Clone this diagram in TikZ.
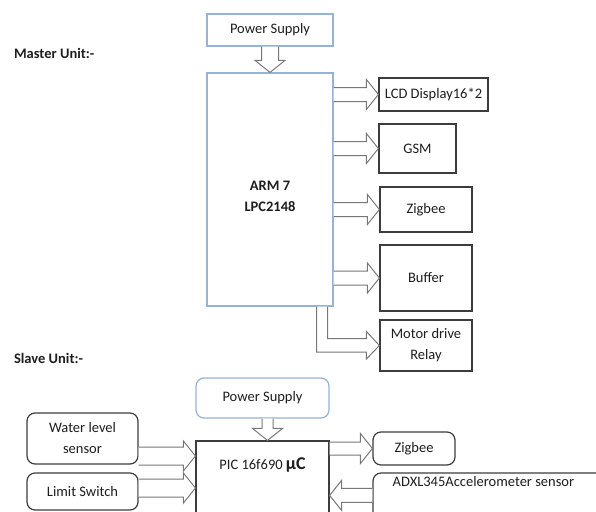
\documentclass[tikz,border=0pt]{standalone}
\usepackage{fontspec}
\setmainfont{Carlito}
\usepackage{xcolor}
\definecolor{psblue}{RGB}{149,179,215}
\definecolor{boxgray}{RGB}{60,60,60}
\definecolor{arrowgray}{RGB}{120,120,120}
\definecolor{txtgray}{RGB}{30,30,30}
\usepackage{tikz}
\usetikzlibrary{calc}

\tikzset{
  blockbox/.style={draw=boxgray, line width=1.2pt, fill=white, text=txtgray, inner sep=2pt},
  psbox/.style={blockbox, draw=psblue},
  roundbox/.style={blockbox, rounded corners=8pt},
  blockarrow/.style={draw=arrowgray, line width=1pt, fill=white, line join=miter},
  unitlbl/.style={font=\bfseries, text=txtgray, anchor=west}
}

% hollow block arrow: [shaft half width]{from}{to}
\newcommand{\fatarrow}[3][7]{%
  \coordinate (fa-a) at (#2);
  \coordinate (fa-b) at (#3);
  \coordinate (fa-n) at ($(fa-b)!12pt!(fa-a)$);
  \filldraw[blockarrow] ($(fa-a)!#1pt!90:(fa-b)$) -- ($(fa-n)!#1pt!90:(fa-b)$)
    -- ($(fa-n)!15pt!90:(fa-b)$) -- (fa-b) -- ($(fa-n)!15pt!-90:(fa-b)$)
    -- ($(fa-n)!#1pt!-90:(fa-b)$) -- ($(fa-a)!#1pt!-90:(fa-b)$);
}

\begin{document}
\fontsize{14.5}{21}\selectfont
\begin{tikzpicture}[x=1pt, y=-1pt]
  \useasboundingbox (0,0) rectangle (596,511);
  \clip (0,0) rectangle (596,511);

  % --- Master unit ---
  \node[unitlbl] (masterlbl) at (9,53) {Master Unit:-};
  \node[psbox, minimum width=126, minimum height=32] (mps) at (270,30) {Power Supply};
  \node[psbox, minimum width=126, minimum height=233] (arm) at (270,189.5) {};
  \node[font=\bfseries, align=center, text=txtgray] (armlbl) at ($(arm.center)+(0,7)$) {ARM 7\\LPC2148};
  % Outputs
  \node[blockbox, minimum width=109, minimum height=33] (lcd) at (433.5,94.5) {LCD Display16*2};
  \node[blockbox, minimum width=77, minimum height=49] (gsm) at (417.5,148.5) {GSM};
  \node[blockbox, minimum width=92, minimum height=45] (zig) at (426,209.5) {Zigbee};
  \node[blockbox, minimum width=92, minimum height=66] (buf) at (426,278) {Buffer};
  \node[blockbox, minimum width=92, minimum height=51, align=center] (motor) at (426,345.5) {Motor drive\\Relay};
  % Arrows
  \fatarrow[8.5]{mps.south}{arm.north}
  \fatarrow{arm.east |- lcd.west}{lcd.west}
  \fatarrow{arm.east |- gsm.west}{gsm.west}
  \fatarrow{arm.east |- zig.west}{zig.west}
  \fatarrow{arm.east |- buf.west}{buf.west}
  \filldraw[blockarrow] ($(arm.south east)+(-17,0)$) |- ($(motor.west)+(-13,6.5)$) -- ++(0,7)
    -- (motor.west) -- ++(-13,-14) -- ++(0,7) -| ($(arm.south east)+(-6,0)$);

  % --- Slave unit ---
  \node[unitlbl] (slavelbl) at (9,358) {Slave Unit:-};
  \node[psbox, rounded corners=8pt, minimum width=133, minimum height=40] (sps) at (262.5,398) {Power Supply};
  \node[blockbox, minimum width=133, minimum height=89] (pic) at (262.5,485.5) {};
  \node[text=txtgray] (piclbl) at ($(pic.north)+(0,25)$) {PIC 16f690 {\fontsize{18}{20}\selectfont\bfseries µC}};
  \node[roundbox, minimum width=111, minimum height=51, align=center] (water) at (82.5,438.5) {Water level\\sensor};
  \node[roundbox, minimum width=111, minimum height=37] (limit) at (82.5,491.5) {Limit Switch};
  \node[roundbox, minimum width=82, minimum height=33] (szig) at (414,448.5) {Zigbee};
  \node[roundbox, minimum width=247, minimum height=67] (adxl) at (496.5,506.5) {};
  \node[text=txtgray] (adxllbl) at ($(adxl.north west)+(111,9)$) {ADXL345Accelerometer sensor};
  % Arrows
  \coordinate (wl-out) at ($(water.east)+(0,17.5)$);
  \coordinate (ls-out) at ($(limit.east)+(0,-3.5)$);
  \coordinate (ax-in) at ($(adxl.north west)+(0,23)$);
  \fatarrow[5.5]{$(sps.south)+(5,0)$}{$(pic.north)+(5,0)$}
  \fatarrow[9]{wl-out}{pic.west |- wl-out}
  \fatarrow[9]{ls-out}{pic.west |- ls-out}
  \fatarrow[6.5]{pic.east |- szig.west}{szig.west}
  \fatarrow{ax-in}{pic.east |- ax-in}
\end{tikzpicture}
\end{document}
